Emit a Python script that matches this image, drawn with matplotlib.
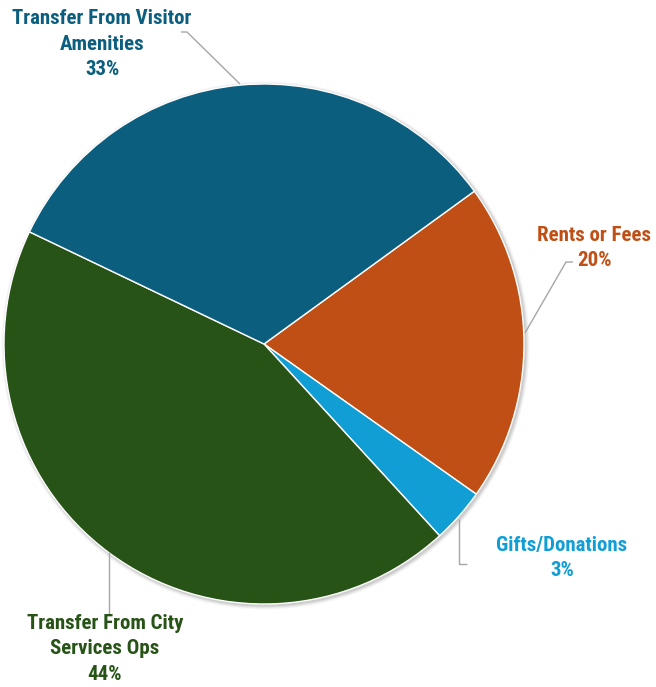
import matplotlib
matplotlib.use("Agg")
import matplotlib.pyplot as plt
from matplotlib.patches import Circle
from matplotlib import font_manager

# Revenue sources (share of total, %)
categories = ["Rents or Fees", "Gifts/Donations",
              "Transfer From City\nServices Ops", "Transfer From Visitor\nAmenities"]
values = [19.8, 3.4, 43.9, 32.9]
colors = ["#C04F15", "#109ED5", "#275317", "#0C5E7E"]

W, H = 656, 687
fig = plt.figure(figsize=(W / 100, H / 100), dpi=100)
ax = fig.add_axes([0, 0, 1, 1])
ax.set_xlim(0, W)
ax.set_ylim(0, H)
ax.set_aspect("equal")
ax.axis("off")

cx, cy, r = 264, H - 344, 260

# soft drop shadow behind the pie
for k, a in [(4, 0.03), (3, 0.04), (2, 0.06), (1, 0.08)]:
    ax.add_patch(Circle((cx + 1.5, cy - 1.5), r + k, color="#000000", alpha=a, lw=0, zorder=0))

total = sum(values)
ax.pie(values, colors=colors, startangle=36, counterclock=False,
       center=(cx, cy), radius=r, frame=True,
       wedgeprops=dict(edgecolor="white", linewidth=1.0, zorder=1))
ax.set_xlim(0, W)
ax.set_ylim(0, H)
ax.axis("off")

installed = {f.name for f in font_manager.fontManager.ttflist}
narrow = [n for n in ["Liberation Sans Narrow", "Roboto Condensed", "Open Sans Condensed",
                      "Noto Sans Condensed", "Arial Narrow"] if n in installed]
font = (narrow[:1] or ["Roboto"]) + ["DejaVu Sans"]
fsize = 15 if narrow else 13

# label centres in pixels from the top-left corner, in slice order
label_pos = [(594, 248), (562, 558), (105, 649), (102, 44)]
for name, v, c, (lx, ly) in zip(categories, values, colors, label_pos):
    pct = round(v / total * 100)
    ax.text(lx, H - ly, f"{name}\n{pct}%", color=c, ha="center", va="center",
            fontsize=fsize, fontweight="bold", family=font, linespacing=1.42, zorder=3)

# leader lines
lc = "#A6A6A6"
leaders = [
    [(573, 262), (566, 262), (525, 333)],
    [(459, 519), (459, 564), (467, 564)],
    [(109, 552), (109, 615)],
    [(181, 32), (187, 32), (240, 84)],
]
for pts in leaders:
    xs = [p[0] for p in pts]
    ys = [H - p[1] for p in pts]
    ax.plot(xs, ys, color=lc, lw=1.0, zorder=2, solid_capstyle="butt")

fig.savefig("out.png", dpi=100, facecolor="white")
